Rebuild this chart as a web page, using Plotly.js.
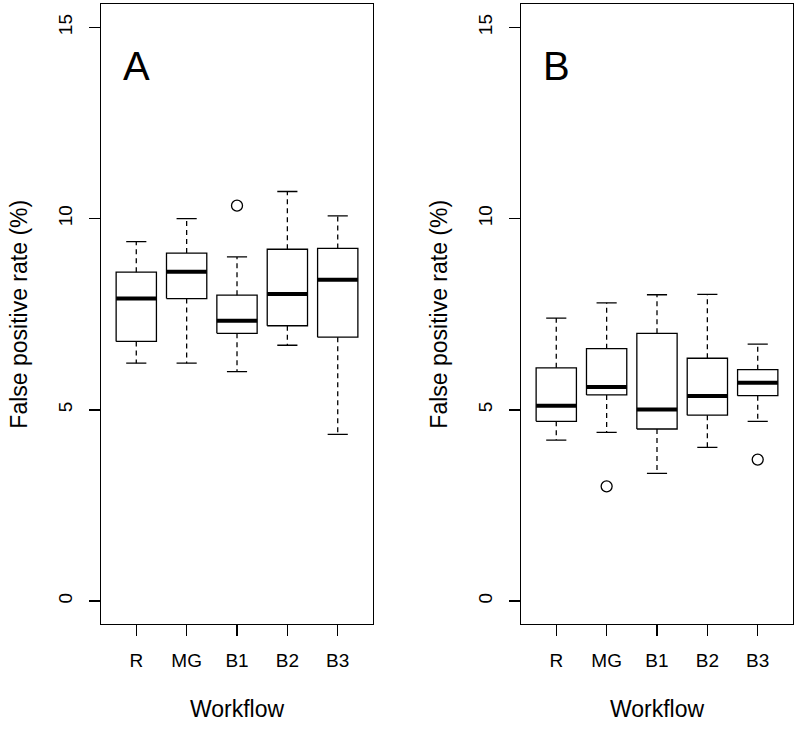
<!DOCTYPE html>
<html>
<head>
<meta charset="utf-8">
<script src="https://cdn.plot.ly/plotly-3.0.1.min.js"></script>
<style>html,body{margin:0;padding:0;background:#fff;}#chart{width:798px;height:732px;}</style>
</head>
<body>
<div id="chart"></div>
<script>
// Categories (workflows)
const categories = ['R', 'MG', 'B1', 'B2', 'B3'];
const yTicks = [0, 5, 10, 15];

// Panel A: five-number summaries
const lowerA  = [6.22, 6.22, 6.00, 6.69, 4.36];
const q1A     = [6.79, 7.91, 7.00, 7.20, 6.90];
const medianA = [7.91, 8.61, 7.33, 8.03, 8.40];
const q3A     = [8.60, 9.10, 8.00, 9.20, 9.22];
const upperA  = [9.40, 10.00, 9.00, 10.71, 10.07];
const outlierCatA = ['B1'];
const outlierValA = [10.34];

// Panel B: five-number summaries
const lowerB  = [4.21, 4.41, 3.34, 4.02, 4.70];
const q1B     = [4.70, 5.39, 4.50, 4.86, 5.37];
const medianB = [5.11, 5.60, 5.01, 5.36, 5.71];
const q3B     = [6.10, 6.60, 7.00, 6.35, 6.05];
const upperB  = [7.40, 7.80, 8.01, 8.02, 6.72];
const outlierCatB = ['MG', 'B3'];
const outlierValB = [3.00, 3.70];

const panelLabels = ['A', 'B'];

const HALF = 0.4, CAP = 0.2;
const LW = 1.3;

function panelTraces(lower, q1, med, q3, upper, outCat, outVal, xa, ya) {
  const bx = [], by = [], mx = [], my = [], wx = [], wy = [], cx = [], cy = [];
  categories.forEach((c, k) => {
    const i = k + 1;
    bx.push(i - HALF, i + HALF, i + HALF, i - HALF, i - HALF, null);
    by.push(q1[k], q1[k], q3[k], q3[k], q1[k], null);
    mx.push(i - HALF, i + HALF, null);
    my.push(med[k], med[k], null);
    wx.push(i, i, null, i, i, null);
    wy.push(q3[k], upper[k], null, q1[k], lower[k], null);
    cx.push(i - CAP, i + CAP, null, i - CAP, i + CAP, null);
    cy.push(upper[k], upper[k], null, lower[k], lower[k], null);
  });
  const common = {xaxis: xa, yaxis: ya, hoverinfo: 'skip', showlegend: false, type: 'scatter'};
  return [
    Object.assign({x: wx, y: wy, mode: 'lines', line: {color: '#000', width: LW, dash: '5px,4px'}}, common),
    Object.assign({x: cx, y: cy, mode: 'lines', line: {color: '#000', width: LW}}, common),
    Object.assign({x: bx, y: by, mode: 'lines', line: {color: '#000', width: LW}}, common),
    Object.assign({x: mx, y: my, mode: 'lines', line: {color: '#000', width: 4}}, common),
    Object.assign({x: outCat.map(c => categories.indexOf(c) + 1), y: outVal, mode: 'markers',
      marker: {symbol: 'circle-open', size: 11, color: '#000', line: {width: LW, color: '#000'}}}, common)
  ];
}

const data = [].concat(
  panelTraces(lowerA, q1A, medianA, q3A, upperA, outlierCatA, outlierValA, 'x', 'y'),
  panelTraces(lowerB, q1B, medianB, q3B, upperB, outlierCatB, outlierValB, 'x2', 'y2')
);

const fontFam = 'Liberation Sans, Arial, Helvetica, sans-serif';
function xAxis(domain, anchor) {
  return {
    domain: domain, anchor: anchor, range: [0.3, 5.7],
    tickmode: 'array', tickvals: categories.map((c, k) => k + 1), ticktext: categories,
    ticks: 'outside', ticklen: 11, tickwidth: LW, tickcolor: '#000',
    showline: true, mirror: true, linecolor: '#000', linewidth: LW,
    showgrid: false, zeroline: false, ticklabelstandoff: 8,
    tickfont: {size: 19, color: '#000', family: fontFam},
    title: {text: 'Workflow', font: {size: 23, color: '#000', family: fontFam}, standoff: 30}
  };
}
function yAxis(domain, anchor) {
  return {
    domain: domain, anchor: anchor, range: [-0.6, 15.6],
    tickmode: 'array', tickvals: yTicks, ticktext: yTicks.map(String),
    tickangle: -90,
    ticks: 'outside', ticklen: 11, tickwidth: LW, tickcolor: '#000',
    showline: true, mirror: true, linecolor: '#000', linewidth: LW,
    showgrid: false, zeroline: false, ticklabelstandoff: 9,
    tickfont: {size: 19, color: '#000', family: fontFam},
    title: {text: 'False positive rate (%)', font: {size: 23, color: '#000', family: fontFam}, standoff: 21}
  };
}

const yDom = [0.1475, 0.9939];
const layout = {
  width: 798, height: 732,
  margin: {l: 0, r: 0, t: 0, b: 0},
  paper_bgcolor: '#fff', plot_bgcolor: '#fff',
  font: {family: fontFam, color: '#000'},
  xaxis: xAxis([0.1266, 0.4674], 'y'),
  yaxis: yAxis(yDom, 'x'),
  xaxis2: xAxis([0.6529, 0.9937], 'y2'),
  yaxis2: yAxis(yDom, 'x2'),
  annotations: [
    {text: panelLabels[0], xref: 'x', yref: 'y', x: 1, y: 14, showarrow: false,
     xanchor: 'center', yanchor: 'middle', font: {size: 40, color: '#000', family: fontFam}},
    {text: panelLabels[1], xref: 'x2', yref: 'y2', x: 1, y: 14, showarrow: false,
     xanchor: 'center', yanchor: 'middle', font: {size: 40, color: '#000', family: fontFam}}
  ]
};

Plotly.newPlot('chart', data, layout, {staticPlot: true, displayModeBar: false});
</script>
</body>
</html>
